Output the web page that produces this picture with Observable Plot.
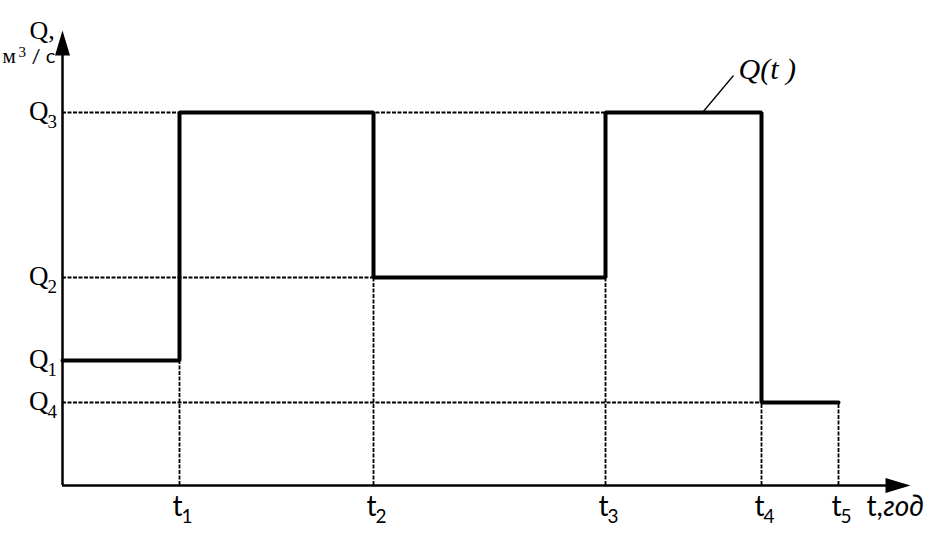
<!DOCTYPE html>
<html>
<head>
<meta charset="utf-8">
<script src="https://cdn.jsdelivr.net/npm/d3@7"></script>
<script src="https://cdn.jsdelivr.net/npm/@observablehq/plot@0.6"></script>
<style>
  html, body { margin: 0; padding: 0; background: #fff; }
</style>
</head>
<body>
<div id="chart"></div>
<script>
// ---- data (arbitrary units) ----
const stepT = [0, 1.17, 3.11, 5.43, 6.99, 7.76];       // moments t0..t5
const stepQ = [1.25, 3.73, 2.08, 3.73, 0.83, 0.83];    // flow Q after each moment
const tTicks = [1.17, 3.11, 5.43, 6.99, 7.76];
const tSubs = ["1", "2", "3", "4", "5"];
const qValues = [1.25, 2.08, 3.73, 0.83];
const qSubs = ["1", "2", "3", "4"];
const xMax = 8.48;
const yMax = 4.55;
const seriesLabel = "Q(t )";
const labelAnchor = {x0: 6.40, y0: 3.73, x1: 6.71, y1: 4.10};

// ---- derived tables ----
const stepData = stepT.map((t, i) => ({t, q: stepQ[i]}));
const hGuides = qValues.map(q => {
  let last = 0;
  stepQ.forEach((v, i) => { if (v === q) last = stepT[i]; });
  return {q, x2: last};
});
const vGuides = stepT.slice(1).map((t, k) => ({t, y2: Math.min(stepQ[k], stepQ[k + 1])}));
const qTicks = qValues.map((q, i) => ({q, sub: qSubs[i]}));
const tLab = tTicks.map((t, i) => ({t, sub: tSubs[i]}));

const arrowHead = {
  draw(ctx) { ctx.moveTo(0, 0); ctx.lineTo(-7.5, 25); ctx.lineTo(7.5, 25); ctx.closePath(); }
};
const serif = "Liberation Serif, Times New Roman, serif";
const sans = "Lato, Liberation Sans, sans-serif";

const chart = Plot.plot({
  width: 938,
  height: 533,
  marginLeft: 62,
  marginRight: 28,
  marginTop: 30,
  marginBottom: 48,
  x: {domain: [0, xMax], axis: null},
  y: {domain: [0, yMax], axis: null},
  style: {background: "#fff", overflow: "visible"},
  marks: [
    // dashed guides
    Plot.ruleY(hGuides, {y: "q", x1: 0, x2: "x2", stroke: "#000", strokeWidth: 1.8, strokeDasharray: "4,1.5"}),
    Plot.ruleX(vGuides, {x: "t", y1: 0, y2: "y2", stroke: "#000", strokeWidth: 1.8, strokeDasharray: "4,1.5"}),
    // axes
    Plot.ruleY([0], {x1: 0, x2: xMax - 0.2, stroke: "#000", strokeWidth: 2.5}),
    Plot.ruleX([0], {y1: 0, y2: yMax - 0.2, stroke: "#000", strokeWidth: 2.5}),
    Plot.dot([{x: 0, y: yMax}], {x: "x", y: "y", symbol: arrowHead, fill: "#000", stroke: null, r: 5}),
    Plot.dot([{x: xMax, y: 0}], {x: "x", y: "y", symbol: arrowHead, fill: "#000", stroke: null, r: 5, rotate: 90}),
    // step series
    Plot.line(stepData, {x: "t", y: "q", curve: "step-after", stroke: "#000", strokeWidth: 4, strokeLinejoin: "miter"}),
    // leader line and series label
    Plot.link([labelAnchor], {x1: "x0", y1: "y0", x2: "x1", y2: "y1", stroke: "#000", strokeWidth: 1.3}),
    Plot.text([labelAnchor], {x: "x1", y: "y1", text: () => seriesLabel, textAnchor: "start", lineAnchor: "bottom", dx: 5, dy: 3, fontSize: 30, fontStyle: "italic", fontFamily: serif, fill: "#000"}),
    // Q tick labels
    Plot.text(qTicks, {x: 0, y: "q", text: () => "Q", textAnchor: "end", lineAnchor: "bottom", dx: -14, dy: 7, fontSize: 27, fontFamily: serif, fill: "#000"}),
    Plot.text(qTicks, {x: 0, y: "q", text: "sub", textAnchor: "start", lineAnchor: "bottom", dx: -15, dy: 15, fontSize: 19, fontFamily: serif, fill: "#000"}),
    // t tick labels
    Plot.text(tLab, {x: "t", y: 0, text: () => "t", textAnchor: "end", lineAnchor: "bottom", dx: 3, dy: 30, fontSize: 28, fontFamily: sans, fill: "#000"}),
    Plot.text(tLab, {x: "t", y: 0, text: "sub", textAnchor: "start", lineAnchor: "bottom", dx: 2, dy: 37, fontSize: 19, fontFamily: sans, fill: "#000"}),
    // axis titles
    Plot.text(["Q,"], {frameAnchor: "top-left", text: d => d, textAnchor: "start", lineAnchor: "bottom", dx: -33, dy: 8, fontSize: 26, fontFamily: serif, fill: "#000"}),
    Plot.text(["м"], {frameAnchor: "top-left", text: d => d, textAnchor: "start", lineAnchor: "bottom", dx: -60, dy: 32, fontSize: 21, fontFamily: serif, fill: "#000"}),
    Plot.text(["3"], {frameAnchor: "top-left", text: d => d, textAnchor: "start", lineAnchor: "bottom", dx: -44, dy: 26, fontSize: 15, fontFamily: serif, fill: "#000"}),
    Plot.text(["/ с"], {frameAnchor: "top-left", text: d => d, textAnchor: "start", lineAnchor: "bottom", dx: -31, dy: 32, fontSize: 20, fontFamily: sans, fill: "#000"}),
    Plot.text(["t,"], {frameAnchor: "bottom-right", text: d => d, textAnchor: "start", lineAnchor: "bottom", dx: -44, dy: 30, fontSize: 28, fontFamily: sans, fill: "#000"}),
    Plot.text(["год"], {frameAnchor: "bottom-right", text: d => d, textAnchor: "start", lineAnchor: "bottom", dx: -27, dy: 30, fontSize: 28, fontStyle: "italic", fontFamily: sans, fill: "#000"})
  ]
});
document.getElementById("chart").appendChild(chart);
</script>
</body>
</html>
